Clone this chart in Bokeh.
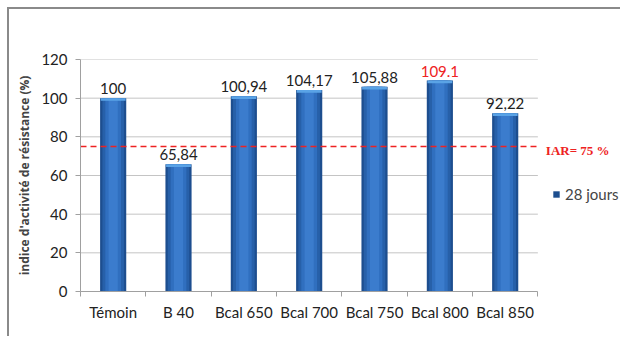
from bokeh.plotting import figure
from bokeh.models import (Range1d, FixedTicker, Label, Legend, LegendItem, ColumnDataSource)
from bokeh.core.properties import value
from bokeh.embed import file_html
from bokeh.resources import INLINE

# Indice d'activité de résistance à 28 jours
categories = ["Témoin", "B 40", "Bcal 650", "Bcal 700", "Bcal 750", "Bcal 800", "Bcal 850"]
values = [100, 65.84, 100.94, 104.17, 105.88, 109.1, 92.22]
value_labels = ["100", "65,84", "100,94", "104,17", "105,88", "109.1", "92,22"]
label_colors = ["#222222", "#222222", "#222222", "#222222", "#222222", "#ee2222", "#222222"]
y_ticks = [0, 20, 40, 60, 80, 100, 120]
iar_threshold = 75

n = len(categories)
xs = [i + 0.5 for i in range(n)]
src = ColumnDataSource(dict(x=xs, top=values, cap=[v - 1.4 for v in values],
                            lab=value_labels, col=label_colors))

# the frame runs past the last category to leave room for the threshold label and legend
p = figure(width=613, height=329, output_backend="svg", toolbar_location=None,
           x_range=Range1d(0, 8.28), y_range=Range1d(0, 120),
           min_border_left=71, min_border_right=1, min_border_top=50, min_border_bottom=47)
p.outline_line_color = None
p.background_fill_color = "white"
p.border_fill_color = "white"
p.margin = (7, 0, 0, 7)
p.styles = {"border-top": "2px solid #8a8a8a", "border-left": "2px solid #8a8a8a"}

FONT = "Lato"

# horizontal gridlines limited to the category area
grid_y = [t for t in y_ticks if t > 0]
p.segment(x0=[0] * len(grid_y), x1=[n] * len(grid_y), y0=grid_y, y1=grid_y,
          line_color="#c4c4c4", line_width=1)

# bars with a soft horizontal shading
shades = [(0.40, "#1d4e8f"), (0.33, "#2760a9"), (0.24, "#306fbf"), (0.14, "#3b7ccd")]
bar_r = None
for w, c in shades:
    r = p.vbar(x="x", top="top", bottom=0, width=w, source=src, fill_color=c, line_color=None)
    if bar_r is None:
        bar_r = r
# light cap on top of each bar
p.vbar(x="x", top="top", bottom="cap", width=0.38, source=src,
       fill_color="#5aa3e6", line_color=None)

# value labels
p.text(x="x", y="top", text="lab", source=src, text_color="col", text_align="center",
       text_baseline="bottom", y_offset=-4, text_font_size="15px", text_font=value(FONT))

# IAR threshold
p.segment(x0=[0], x1=[n], y0=[iar_threshold], y1=[iar_threshold],
          line_color="#ee2222", line_dash="6 4", line_width=1.5)
p.add_layout(Label(x=n, y=iar_threshold, x_offset=8, y_offset=-4,
                   text="IAR= 75 %", text_color="#ee2222", text_font="Liberation Serif",
                   text_font_style="bold", text_font_size="13px", text_baseline="middle"))

# axes
p.yaxis.ticker = FixedTicker(ticks=y_ticks)
p.yaxis.axis_label = "indice d'activité de résistance (%)"
p.yaxis.axis_label_text_font = "Open Sans"
p.yaxis.axis_label_text_font_style = "bold"
p.yaxis.axis_label_text_font_size = "12px"
p.yaxis.axis_label_standoff = 5
p.yaxis.major_label_text_font = FONT
p.yaxis.major_label_text_font_size = "15px"
p.yaxis.major_label_text_color = "#222222"
p.yaxis.major_label_standoff = 8
p.yaxis.major_tick_out = 5
p.yaxis.major_tick_in = 0
p.yaxis.minor_tick_line_color = None
p.yaxis.axis_line_color = "#a0a0a0"
p.yaxis.major_tick_line_color = "#a0a0a0"

p.xaxis.ticker = FixedTicker(ticks=xs, minor_ticks=list(range(n + 1)))
p.xaxis.bounds = (0, n)
p.xaxis.major_label_overrides = {x: c for x, c in zip(xs, categories)}
p.xaxis.major_tick_line_color = None
p.xaxis.major_label_standoff = 5
p.xaxis.major_label_text_font = FONT
p.xaxis.major_label_text_font_size = "15px"
p.xaxis.major_label_text_color = "#222222"
p.xaxis.minor_tick_out = 5
p.xaxis.minor_tick_in = 0
p.xaxis.minor_tick_line_color = "#a0a0a0"
p.xaxis.axis_line_color = "#a0a0a0"

p.xgrid.grid_line_color = None
p.ygrid.grid_line_color = None

legend = Legend(items=[LegendItem(label="28 jours", renderers=[bar_r])],
                location=(472, 88), border_line_color=None, background_fill_alpha=0,
                label_text_font=FONT, label_text_font_size="15px", padding=0, margin=0,
                glyph_width=8, glyph_height=8, label_standoff=5)
p.add_layout(legend)

open("out.html", "w").write(file_html(p, INLINE))
